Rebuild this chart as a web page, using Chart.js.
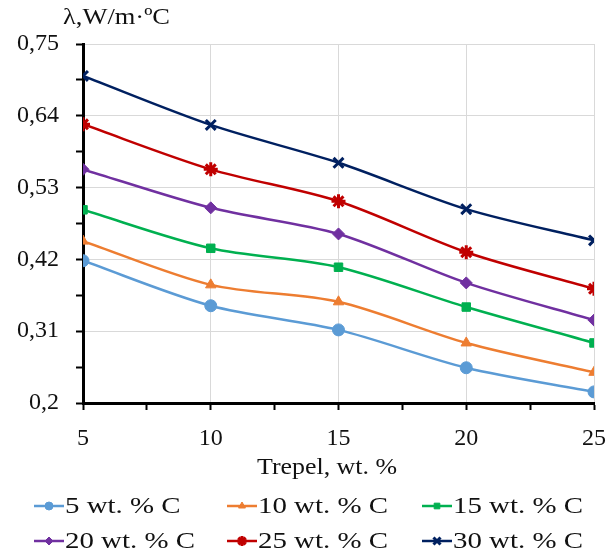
<!DOCTYPE html>
<html>
<head>
<meta charset="utf-8">
<script src="https://cdn.jsdelivr.net/npm/chart.js@4"></script>
<style>
  html, body { margin: 0; padding: 0; background: #fff; }
  #wrap { width: 611px; height: 554px; }
</style>
</head>
<body>
<div id="wrap"><canvas id="myChart" width="611" height="554"></canvas></div>
<script>
  /* Data
  -----------------------------------------------*/
  let trepel = [5, 10, 15, 20, 25];
  let seriesNames = ['5 wt. % C', '10 wt. % C', '15 wt. % C', '20 wt. % C', '25 wt. % C', '30 wt. % C'];
  let c5  = [0.418, 0.349, 0.312, 0.254, 0.217];
  let c10 = [0.448, 0.381, 0.355, 0.292, 0.247];
  let c15 = [0.496, 0.437, 0.408, 0.347, 0.292];
  let c20 = [0.558, 0.499, 0.459, 0.384, 0.327];
  let c25 = [0.627, 0.558, 0.509, 0.431, 0.375];
  let c30 = [0.701, 0.626, 0.568, 0.497, 0.449];
  let yTicks = [0.2, 0.31, 0.42, 0.53, 0.64, 0.75];
  let xTicks = [5, 10, 15, 20, 25];
  let xTitle = 'Trepel, wt. %';
  let yTitle = '\u03bb,W/m\u00b7\u00baC';

  let colors = ['#5B9BD5', '#ED7D31', '#00B050', '#7030A0', '#C00000', '#002060'];
  let markers = ['circle', 'triangle', 'rect', 'rectRot', 'star', 'crossRot'];
  let values = [c5, c10, c15, c20, c25, c30];

  let serif = "'Liberation Serif', 'Times New Roman', serif";

  // text in the picture is a bit stretched sideways, so widen it to a target width
  function wideText(ctx, txt, x, y, sx) {
    ctx.save();
    ctx.translate(x, y);
    ctx.scale(sx, 1);
    ctx.fillText(txt, 0, 0);
    ctx.restore();
  }

  /* Legend + titles drawn on canvas
  -----------------------------------------------*/
  let extraText = {
    id: 'extraText',
    afterDraw(chart) {
      let ctx = chart.ctx;
      ctx.save();
      ctx.fillStyle = '#111';
      ctx.font = '23px ' + serif;
      ctx.textBaseline = 'middle';
      ctx.textAlign = 'left';

      // y title
      let w = ctx.measureText(yTitle).width;
      wideText(ctx, yTitle, 63, 18, 107 / w);

      // x title
      w = ctx.measureText(xTitle).width;
      wideText(ctx, xTitle, 327 - 70, 468, 140 / w);

      // legend
      let legSx = 130 / ctx.measureText(seriesNames[2]).width;
      let colX = [34, 227, 422];
      let rowY = [506, 541];
      chart.data.datasets.forEach(function(ds, i) {
        let x = colX[i % 3];
        let y = rowY[Math.floor(i / 3)];
        ctx.strokeStyle = ds.borderColor;
        ctx.lineWidth = 2.5;
        ctx.beginPath();
        ctx.moveTo(x, y);
        ctx.lineTo(x + 30, y);
        ctx.stroke();
        let opts = { pointStyle: ds.pointStyle, radius: ds.pointRadius - 2, rotation: 0, borderWidth: ds.pointBorderWidth };
        ctx.fillStyle = ds.pointBackgroundColor;
        ctx.strokeStyle = ds.borderColor;
        ctx.lineWidth = ds.pointBorderWidth;
        if (Chart.helpers && Chart.helpers.drawPoint) {
          Chart.helpers.drawPoint(ctx, opts, x + 15, y);
        }
        ctx.fillStyle = '#111';
        wideText(ctx, ds.label, x + 31, y + 1, legSx);
      });
      ctx.restore();
    }
  };

  function fmt(v) {
    return String(Math.round(v * 100) / 100).replace('.', ',');
  }
  function isMajorY(v) {
    return yTicks.some(t => Math.abs(t - v) < 1e-6);
  }
  function isMajorX(v) {
    return xTicks.some(t => Math.abs(t - v) < 1e-6);
  }

  function charVisual() {
    let ctx = document.getElementById('myChart').getContext('2d');
    let datasets = values.map(function(vals, i) {
      return {
        label: seriesNames[i],
        data: trepel.map((x, j) => ({ x: x, y: vals[j] })),
        borderColor: colors[i],
        backgroundColor: colors[i],
        pointBackgroundColor: colors[i],
        pointBorderColor: colors[i],
        pointStyle: markers[i],
        pointRadius: i >= 4 ? 7 : 6,
        pointBorderWidth: i >= 4 ? 3 : 1,
        borderWidth: 2.5,
        tension: 0.3,
        fill: false
      };
    });

    let myChart = new Chart(ctx, {
      type: 'line',
      data: { datasets: datasets },
      options: {
        responsive: false,
        animation: false,
        layout: { padding: { left: 0, right: 17, top: 44, bottom: 71 } },
        plugins: {
          legend: { display: false },
          tooltip: { enabled: false }
        },
        scales: {
          x: {
            type: 'linear',
            min: 5, max: 25,
            afterFit: function(s) {
              s.height = 80;
              s.paddingLeft = 0;
              s.paddingRight = 0;
            },
            ticks: {
              stepSize: 2.5,
              autoSkip: false,
              maxRotation: 0,
              padding: 14,
              color: '#111',
              font: { family: serif, size: 24 },
              callback: v => isMajorX(v) ? String(v) : ''
            },
            grid: {
              color: c => (isMajorX(c.tick.value) && c.tick.value !== 5) ? '#d9d9d9' : 'rgba(0,0,0,0)',
              tickColor: '#000',
              tickLength: 7,
              lineWidth: 1,
              tickWidth: 2
            },
            border: { color: '#000', width: 3 }
          },
          y: {
            min: 0.2, max: 0.75,
            afterFit: function(s) {
              s.width = 83;
              s.paddingTop = 0;
              s.paddingBottom = 0;
            },
            ticks: {
              stepSize: 0.055,
              autoSkip: false,
              padding: 17,
              color: '#111',
              font: { family: serif, size: 24 },
              callback: v => isMajorY(v) ? fmt(v) : ''
            },
            grid: {
              color: c => (isMajorY(c.tick.value) && Math.abs(c.tick.value - 0.2) > 1e-6) ? '#d9d9d9' : 'rgba(0,0,0,0)',
              tickColor: '#000',
              tickLength: 7,
              lineWidth: 1,
              tickWidth: 2
            },
            border: { color: '#000', width: 3 }
          }
        }
      },
      plugins: [extraText]
    });
  }
  charVisual();
</script>
</body>
</html>
